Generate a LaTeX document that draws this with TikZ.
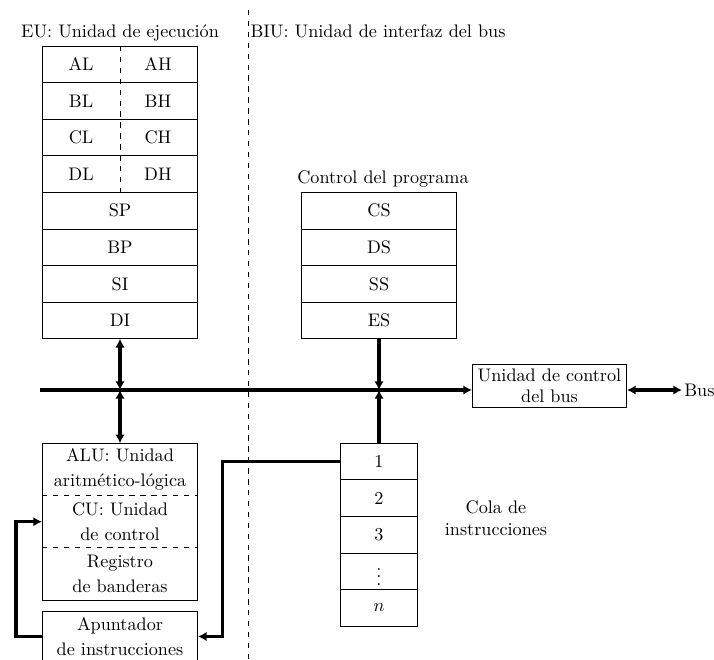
\documentclass[tikz,border=0pt]{standalone}
\usetikzlibrary{arrows.meta}
\begin{document}
\begin{tikzpicture}[x=0.55pt,y=-0.55pt, line width=0.55pt,
  reg/.style={draw, inner sep=0pt, outer sep=0pt, minimum width=85.8pt, minimum height=20.13pt},
  qcell/.style={draw, inner sep=0pt, outer sep=0pt, minimum width=42.9pt, minimum height=20.13pt},
  sec/.style={inner sep=0pt, outer sep=0pt, minimum width=85.8pt, minimum height=28.77pt, align=center},
  lbl/.style={inner sep=0pt},
  buswire/.style={line width=1.8pt},
  >={Latex[length=4.8pt,width=5.2pt]}]
\useasboundingbox (0,0) rectangle (714,660);
\clip (0,0) rectangle (714,660);

% titles and divider
\node[lbl, anchor=base] (eut) at (120,37) {EU: Unidad de ejecución};
\node[lbl, anchor=base west] (biut) at (250,37) {BIU: Unidad de interfaz del bus};
\coordinate (divT) at (248,10);
\coordinate (divB) at (248,660);
\draw[dashed] (divT) -- (divB);

% general registers
\node[reg] (rA) at (120,64.3) {};
\node[reg] (rB) at (120,100.9) {};
\node[reg] (rC) at (120,137.5) {};
\node[reg] (rD) at (120,174.1) {};
\node[reg] (rSP) at (120,210.7) {SP};
\node[reg] (rBP) at (120,247.3) {BP};
\node[reg] (rSI) at (120,283.9) {SI};
\node[reg] (rDI) at (120,320.5) {DI};
\draw[dashed] (rA.north) -- (rD.south);
\node (AL) at (81,64.3) {AL};
\node (AH) at (158,64.3) {AH};
\node (BL) at (81,100.9) {BL};
\node (BH) at (158,100.9) {BH};
\node (CL) at (81,137.5) {CL};
\node (CH) at (158,137.5) {CH};
\node (DL) at (81,174.1) {DL};
\node (DH) at (158,174.1) {DH};

% segment registers
\node[lbl, anchor=base] (cpt) at (383,183) {Control del programa};
\node[reg] (CS) at (379,210.7) {CS};
\node[reg] (DS) at (379,247.3) {DS};
\node[reg] (SS) at (379,283.9) {SS};
\node[reg] (ES) at (379,320.5) {ES};

% bus
\coordinate (busL) at (40,390);
\node[draw, inner sep=0pt, outer sep=0pt, minimum width=85.25pt, minimum height=23.65pt, align=center] (busctl) at (549.5,385.7) {Unidad de control\\del bus};
\node[inner sep=1pt, anchor=west] (busout) at (682,390) {Bus};
\draw[buswire,->] (busL) -- (busL -| busctl.west);
\draw[buswire,<->] (busL -| busctl.east) -- (busout.west);

% EU lower block
\node[sec] (alu) at (120,469.4) {ALU: Unidad\\[1.5pt]aritmético-lógica};
\node[sec] (cu) at (120,521.7) {CU: Unidad\\[1.5pt]de control};
\node[sec] (flg) at (120,574) {Registro\\[1.5pt]de banderas};
\draw (alu.north west) rectangle (flg.south east);
\draw[dashed] (alu.south west) -- (alu.south east);
\draw[dashed] (cu.south west) -- (cu.south east);

\node[draw, inner sep=0pt, outer sep=0pt, minimum width=85.8pt, minimum height=28pt, align=center] (apt) at (120,636.5) {Apuntador\\[1.5pt]de instrucciones};

% instruction queue
\node[qcell] (q1) at (379,461.6) {1};
\node[qcell] (q2) at (379,498.2) {2};
\node[qcell] (q3) at (379,534.8) {3};
\node[qcell] (q4) at (379,571.4) {$\vdots$};
\node[qcell] (q5) at (379,608) {$n$};
\node[align=center] (cola) at (496,518) {Cola de\\instrucciones};

% connectors
\draw[buswire,<->] (rDI.south) -- (rDI.south |- busL);
\draw[buswire,<->] (rDI.south |- busL) -- (alu.north);
\draw[buswire,->] (ES.south) -- (ES.south |- busL);
\draw[buswire,->] (q1.north) -- (q1.north |- busL);
\draw[buswire,->] (apt.west) -- ++(-26,0) |- (cu.west);
\draw[buswire,->] (q1.west) -| ([xshift=13.5pt]apt.east) -- (apt.east);
\end{tikzpicture}
\end{document}
